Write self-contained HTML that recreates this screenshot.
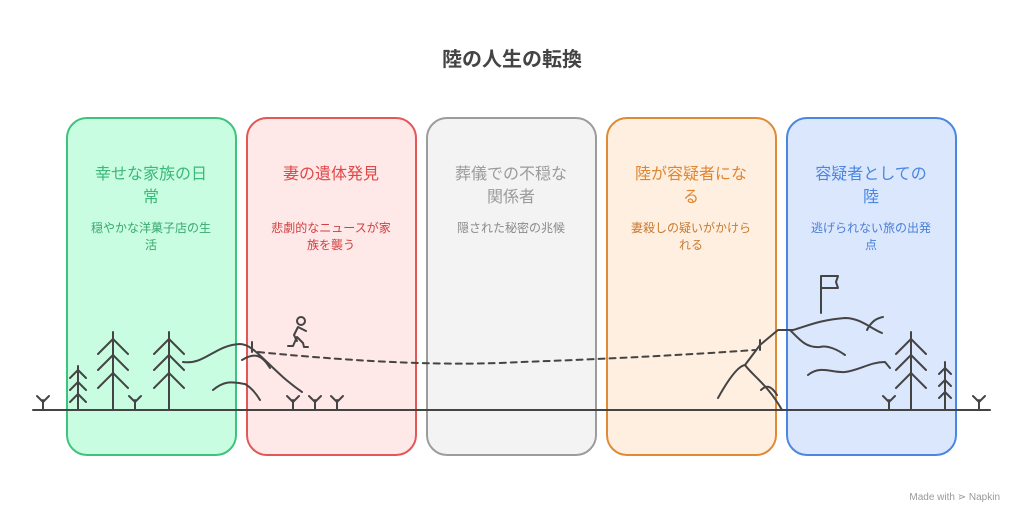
<!DOCTYPE html>
<html><head><meta charset="utf-8"><style>
body{margin:0;background:#fff;width:1024px;height:523px;overflow:hidden}
svg text{font-family:"Liberation Sans","Noto Sans CJK JP",sans-serif}
</style></head><body>
<svg width="1024" height="523" viewBox="0 0 1024 523">
<text x="512" y="66" text-anchor="middle" font-size="20" font-weight="bold" fill="#444">陸の人生の転換</text>
<rect x="67" y="118" width="169" height="337" rx="20" fill="#c8fde2" stroke="#3cc47c" stroke-width="2"/>
<rect x="247" y="118" width="169" height="337" rx="20" fill="#ffe8e8" stroke="#e45757" stroke-width="2"/>
<rect x="427" y="118" width="169" height="337" rx="20" fill="#f3f3f3" stroke="#9c9c9c" stroke-width="2"/>
<rect x="607" y="118" width="169" height="337" rx="20" fill="#ffefe0" stroke="#e08a36" stroke-width="2"/>
<rect x="787" y="118" width="169" height="337" rx="20" fill="#dbe7fd" stroke="#4a86e2" stroke-width="2"/>
<g font-size="16" text-anchor="middle">
<text x="151" y="179" fill="#3cb878">幸せな家族の日</text><text x="151" y="202" fill="#3cb878">常</text>
<text x="331" y="179" fill="#e04848">妻の遺体発見</text>
<text x="511" y="179" fill="#9a9a9a">葬儀での不穏な</text><text x="511" y="202" fill="#9a9a9a">関係者</text>
<text x="691" y="179" fill="#e08630">陸が容疑者にな</text><text x="691" y="202" fill="#e08630">る</text>
<text x="871" y="179" fill="#4a86e2">容疑者としての</text><text x="871" y="202" fill="#4a86e2">陸</text>
</g>
<g font-size="12" text-anchor="middle">
<text x="151" y="232" fill="#3aa86e">穏やかな洋菓子店の生</text><text x="151" y="249" fill="#3aa86e">活</text>
<text x="331" y="232" fill="#d04040">悲劇的なニュースが家</text><text x="331" y="249" fill="#d04040">族を襲う</text>
<text x="511" y="232" fill="#8a8a8a">隠された秘密の兆候</text>
<text x="691" y="232" fill="#c87a30">妻殺しの疑いがかけら</text><text x="691" y="249" fill="#c87a30">れる</text>
<text x="871" y="232" fill="#4a7ed6">逃げられない旅の出発</text><text x="871" y="249" fill="#4a7ed6">点</text>
</g>
<g fill="none" stroke="#444" stroke-width="2" stroke-linecap="round" stroke-linejoin="round">
<line x1="33" y1="410" x2="990" y2="410"/>
<path d="M258 352 Q420 368 520 362 Q640 358 755 350" stroke-dasharray="6 5"/>
<!-- trees left -->
<path d="M78 410V366M70 378l8-8 8 8M70 390l8-8 8 8M70 402l8-8 8 8"/>
<path d="M113 410V332M98 354l15-15 15 15M98 370l15-15 15 15M98 388l15-15 15 15"/>
<path d="M169 410V332M154 354l15-15 15 15M154 370l15-15 15 15M154 388l15-15 15 15"/>
<path d="M135 410v-10M129 396l6 6 6-6"/>
<path d="M43 410v-10M37 396l6 6 6-6"/>
<path d="M293 410v-10M287 396l6 6 6-6M315 410v-10M309 396l6 6 6-6M337 410v-10M331 396l6 6 6-6"/>
<!-- hills left -->
<path d="M183 362C205 365 215 345 240 344C255 344 270 370 302 392"/>
<path d="M242 360C255 352 262 355 270 368"/>
<path d="M213 390C225 380 232 382 245 384C252 388 257 395 260 400"/>
<path d="M252 342v10"/>
<!-- hiker -->
<circle cx="301" cy="321" r="4"/>
<path d="M298 327l-4 8 3 6M298 327l8 4M297 337l-4 9h-5M297 337l6 6 1 4h4"/>
<!-- mountain right -->
<path d="M718 398C728 380 738 366 745 365C752 375 768 385 782 410"/>
<path d="M745 365L760 345L778 330H793C810 325 820 320 845 318C860 318 870 328 882 333"/>
<path d="M790 330C800 340 806 348 820 347C828 345 838 350 845 355"/>
<path d="M808 375C820 365 832 373 845 372C860 370 870 362 885 362L890 368"/>
<path d="M867 330C872 320 878 318 883 317"/>
<path d="M760 340v10"/>
<path d="M761 390c5-5 10-5 16 5"/>
<path d="M821 313V276M821 276h17l-2 6 2 6h-17"/>
<path d="M911 410V332M896 354l15-15 15 15M896 370l15-15 15 15M896 388l15-15 15 15"/>
<path d="M945 410V362M939 374l6-6 6 6M939 386l6-6 6 6M939 398l6-6 6 6"/>
<path d="M889 410v-10M883 396l6 6 6-6M979 410v-10M973 396l6 6 6-6"/>
</g>
<text x="1000" y="500" text-anchor="end" font-size="10" fill="#999">Made with ⋗ Napkin</text>
</svg>
</body></html>
